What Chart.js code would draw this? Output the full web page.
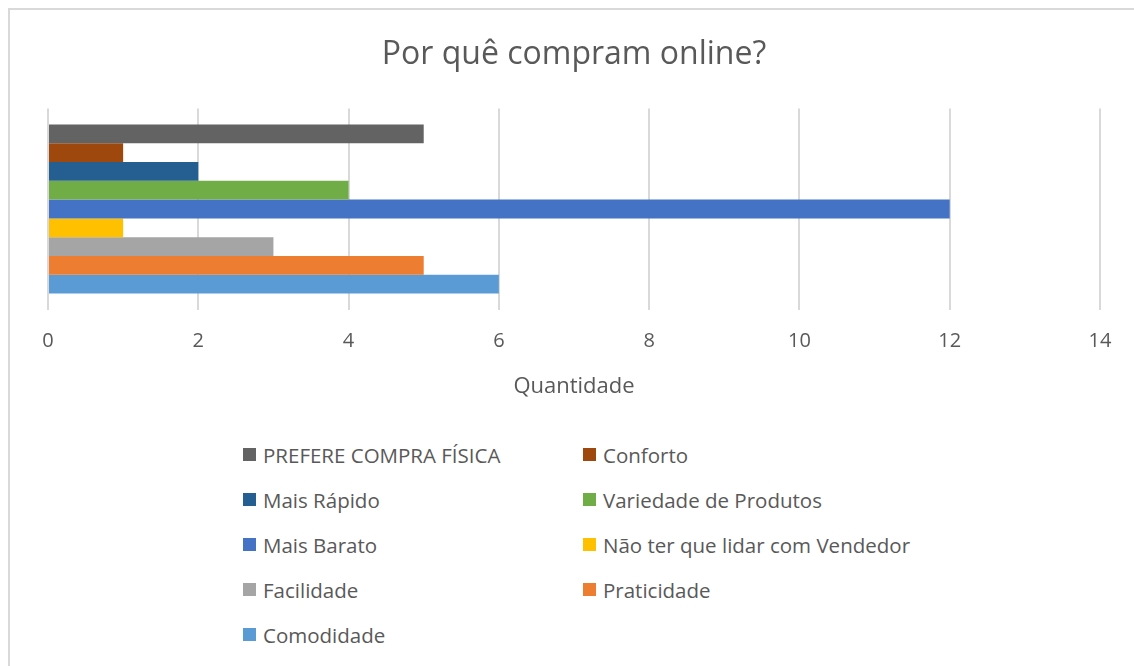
<!DOCTYPE html>
<html>
<head>
<meta charset="utf-8">
<script src="https://cdn.jsdelivr.net/npm/chart.js@4"></script>
<style>
  body { margin: 0; background: #fff; font-family: "Open Sans", sans-serif; }
  #moldura { position: absolute; left: 8px; top: 8px; width: 1140px; height: 680px;
             border-top: 2px solid #d9d9d9; border-left: 2px solid #d9d9d9; }
  #area { position: absolute; left: 0; top: 0; width: 1134px; height: 414px; }
  #legenda { position: absolute; left: 243px; top: 432px; display: grid;
             grid-template-columns: 340px 340px; row-gap: 0; }
  .item { height: 45px; display: flex; align-items: center; color: #595959; font-size: 20.5px; }
  .item span.q { width: 13px; height: 13px; margin-right: 7px; display: inline-block; }
</style>
</head>
<body>
<div id="moldura"></div>
<div id="area"><canvas id="grafico"></canvas></div>
<div id="legenda"></div>
<script>
// Dados do gráfico
const categorias = [""];
const motivos = [
  "PREFERE COMPRA FÍSICA", "Conforto", "Mais Rápido", "Variedade de Produtos",
  "Mais Barato", "Não ter que lidar com Vendedor", "Facilidade", "Praticidade", "Comodidade"
];
const quantidades = [5, 1, 2, 4, 12, 1, 3, 5, 6];
const cores = ["#636363", "#9E480E", "#255E91", "#70AD47", "#4472C4", "#FFC000", "#A5A5A5", "#ED7D31", "#5B9BD5"];
const ticksX = [0, 2, 4, 6, 8, 10, 12, 14];

const datasets = motivos.map((nome, i) => ({
  label: nome,
  data: [quantidades[i]],
  backgroundColor: cores[i],
  barPercentage: 1,
  categoryPercentage: 0.84
}));

const ctx = document.getElementById("grafico").getContext("2d");
new Chart(ctx, {
  type: "bar",
  data: { labels: categorias, datasets },
  options: {
    indexAxis: "y",
    responsive: true,
    maintainAspectRatio: false,
    animation: false,
    layout: { padding: { left: 48, right: 34, top: 0, bottom: 10 } },
    plugins: {
      legend: { display: false },
      tooltip: { enabled: false },
      title: {
        display: true,
        text: "Por quê compram online?",
        color: "#595959",
        font: { family: "Open Sans", size: 32, weight: "normal" },
        padding: { top: 36, bottom: 34 }
      }
    },
    scales: {
      x: {
        min: 0,
        max: 14,
        afterBuildTicks: (axis) => { axis.ticks = ticksX.map(v => ({ value: v })); },
        grid: { color: "#d9d9d9", lineWidth: 2, drawTicks: false },
        border: { display: false },
        ticks: { color: "#595959", font: { family: "Open Sans", size: 20 }, padding: 20 },
        title: {
          display: true,
          text: "Quantidade",
          color: "#595959",
          font: { family: "Open Sans", size: 22 },
          padding: { top: 0 }
        }
      },
      y: { display: false }
    }
  }
});

/* --- Legenda em duas colunas --- */
const legenda = document.getElementById("legenda");
motivos.forEach((nome, i) => {
  const item = document.createElement("div");
  item.className = "item";
  const q = document.createElement("span");
  q.className = "q";
  q.style.background = cores[i];
  item.appendChild(q);
  item.appendChild(document.createTextNode(nome));
  legenda.appendChild(item);
});
</script>
</body>
</html>
